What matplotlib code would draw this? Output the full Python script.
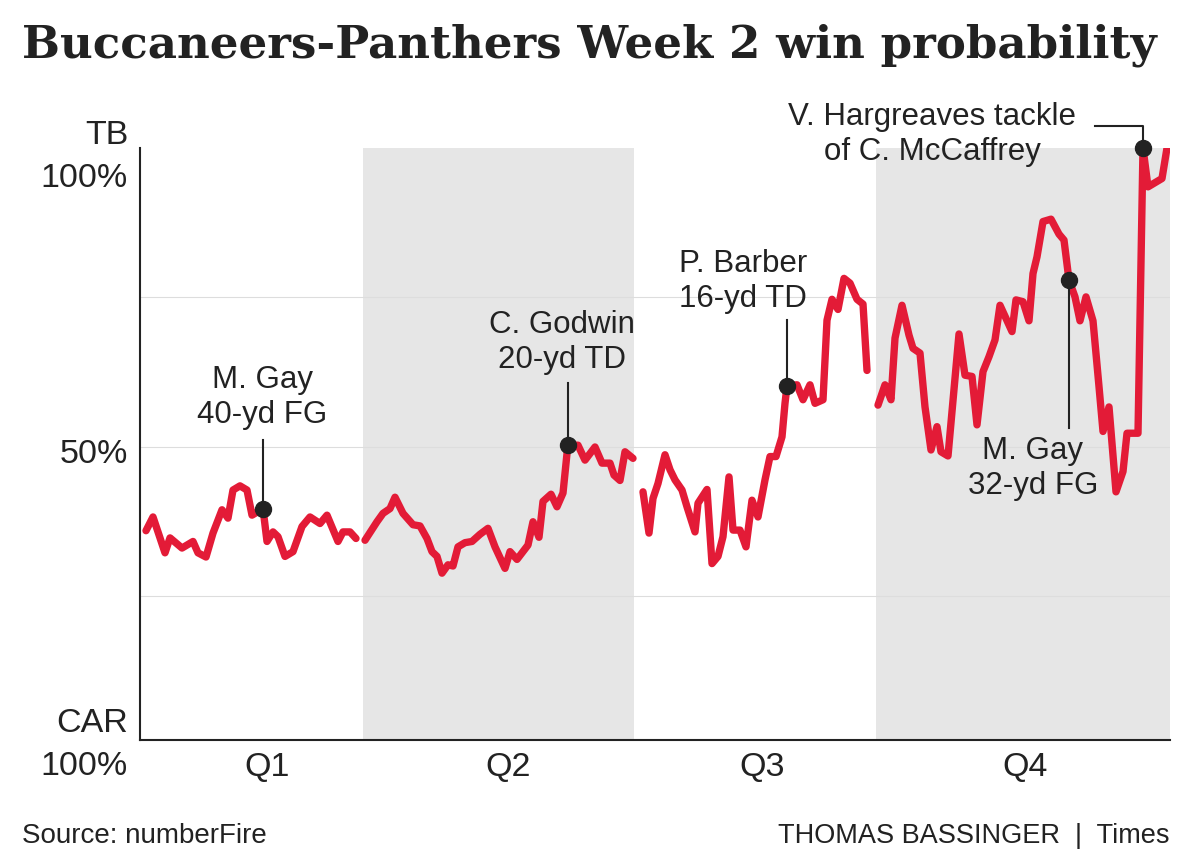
import matplotlib
matplotlib.use("Agg")
import matplotlib.pyplot as plt
from matplotlib import font_manager as fm

# ---------------- data (x = game progress in play units, y = TB win prob %) ----
q1_x = [6, 13, 25, 30, 42, 53, 58, 66, 73, 82, 88, 93, 100, 107, 112, 118, 123, 127, 133, 138,
        145, 153, 162, 170, 180, 187, 198, 203, 210, 216]
q1_y = [36.0, 38.3, 32.3, 34.8, 33.1, 34.2, 32.3, 31.6, 35.6, 39.5, 38.1, 42.8, 43.5, 42.8, 38.6,
        39.2, 39.7, 34.2, 35.8, 35.0, 31.7, 32.5, 36.7, 38.3, 37.2, 38.6, 34.2, 35.8, 35.8, 34.7]

q2_x = [225, 237, 243, 250, 255, 263, 273, 280, 287, 292, 297, 302, 308, 313, 318, 325, 332, 340,
        348, 355, 365, 370, 377, 388, 393, 399, 403, 411, 417, 423, 427, 428, 438, 445, 455, 462,
        470, 474, 480, 485, 493]
q2_y = [34.4, 37.5, 38.9, 39.7, 41.6, 38.9, 37.0, 36.8, 34.7, 32.5, 31.7, 28.9, 30.3, 30.1, 33.3,
        34.0, 34.2, 35.4, 36.4, 33.3, 29.7, 32.5, 31.2, 33.6, 37.5, 34.9, 40.9, 42.1, 40.0, 42.3,
        48.9, 50.3, 50.3, 47.8, 50.0, 47.3, 47.3, 45.3, 44.4, 49.2, 48.1]

q3_x = [503, 509, 513, 518, 525, 530, 535, 542, 547, 555, 558, 567, 572, 578, 583, 589, 593, 600,
        606, 612, 618, 625, 630, 636, 642, 645, 647, 657, 663, 670, 675, 683, 687, 692, 698, 704,
        710, 717, 723, 727]
q3_y = [42.5, 35.6, 41.4, 43.9, 48.7, 46.2, 44.5, 42.8, 40.0, 35.8, 40.6, 42.9, 30.5, 31.7, 35.0,
        45.0, 36.1, 36.1, 33.3, 41.1, 38.3, 44.5, 48.4, 48.4, 51.7, 57.3, 60.2, 60.4, 57.9, 60.4,
        57.3, 57.9, 71.2, 74.7, 73.0, 78.2, 77.4, 74.7, 73.9, 62.8]

q4_x = [738, 745, 751, 755, 762, 769, 773, 780, 785, 791, 797, 801, 808, 819, 825, 832, 837, 843,
        849, 855, 860, 872, 876, 883, 889, 893, 897, 903, 911, 919, 924, 929, 935, 940, 946, 953,
        959, 963, 969, 976, 983, 987, 998, 1003, 1008, 1022, 1027]
q4_y = [57.0, 60.4, 57.9, 68.2, 73.7, 68.7, 66.5, 65.7, 56.7, 49.5, 53.4, 49.2, 48.5, 68.9, 62.0,
        61.8, 53.7, 62.6, 65.1, 67.9, 73.7, 69.3, 74.6, 74.3, 71.1, 79.0, 81.8, 87.7, 88.1, 85.6,
        84.6, 77.9, 75.1, 71.1, 75.1, 71.1, 60.1, 52.6, 56.7, 42.5, 45.9, 52.3, 52.3, 100.0, 93.5,
        94.9, 100.0]

quarter_bounds = [0, 223, 494, 736, 1030]
quarter_labels = ["Q1", "Q2", "Q3", "Q4"]
quarter_label_x = [127, 368, 622, 885]

# key plays: (x, y, label)
key_plays = [
    (123, 39.7, "M. Gay\n40-yd FG"),
    (428, 50.3, "C. Godwin\n20-yd TD"),
    (647, 60.2, "P. Barber\n16-yd TD"),
    (929, 77.9, "M. Gay\n32-yd FG"),
    (1003, 100.0, "V. Hargreaves tackle\nof C. McCaffrey"),
]

title = "Buccaneers-Panthers Week 2 win probability"
source = "Source: numberFire"
credit = "THOMAS BASSINGER  |  Times"

# ---------------- fonts ----------------
names = {f.name for f in fm.fontManager.ttflist}
body = [n for n in ["Liberation Sans", "Arial", "DejaVu Sans"] if n in names]
plt.rcParams["font.family"] = body + ["DejaVu Sans"]

RED = "#e31b37"
DARK = "#222222"

fig = plt.figure(figsize=(11.97, 8.58), dpi=100)
ax = fig.add_axes([140 / 1197, 1 - 740 / 858, 1030 / 1197, (740 - 148) / 858])
ax.set_xlim(quarter_bounds[0], quarter_bounds[-1])
ax.set_ylim(1, 100)

# shaded quarters
for i in (1, 3):
    ax.axvspan(quarter_bounds[i], quarter_bounds[i + 1], color="#e6e6e6", zorder=0, lw=0)
for g in (25, 50, 75):
    ax.axhline(g, color="#dddddd", lw=0.8, zorder=0.5)

for xs, ys in [(q1_x, q1_y), (q2_x, q2_y), (q3_x, q3_y), (q4_x, q4_y)]:
    ax.plot(xs, ys, color=RED, lw=5.3, solid_joinstyle="round", solid_capstyle="round", zorder=3)

for s in ("top", "right"):
    ax.spines[s].set_visible(False)
ax.spines["left"].set_color(DARK)
ax.spines["bottom"].set_color(DARK)
ax.spines["left"].set_linewidth(1.5)
ax.spines["bottom"].set_linewidth(1.5)
ax.set_xticks([])
ax.set_yticks([])

FS = 24.5
# y labels
ax.text(-12, 98.5, "TB\n100%", ha="right", va="center", fontsize=FS, color=DARK, linespacing=1.5)
ax.text(-12, 48.7, "50%", ha="right", va="center", fontsize=FS, color=DARK)
ax.text(-12, 0.2, "CAR\n100%", ha="right", va="center", fontsize=FS, color=DARK, linespacing=1.5,
        clip_on=False)
for qx, ql in zip(quarter_label_x, quarter_labels):
    ax.text(qx, -3.6, ql, ha="center", va="center", fontsize=FS, color=DARK, clip_on=False)

# annotations
AFS = 22.5
LS = 1.22
for (x, y, lab) in key_plays:
    ax.plot([x], [y], "o", color=DARK, ms=11.5, zorder=5, clip_on=False)
(x, y, lab) = key_plays[0]
ax.plot([x, x], [y, 51.2], color=DARK, lw=1.5, zorder=4)
ax.text(122, 58.3, lab, ha="center", va="center", fontsize=AFS, color=DARK, linespacing=LS)
(x, y, lab) = key_plays[1]
ax.plot([x, x], [y, 60.7], color=DARK, lw=1.5, zorder=4)
ax.text(422, 67.5, lab, ha="center", va="center", fontsize=AFS, color=DARK, linespacing=LS)
(x, y, lab) = key_plays[2]
ax.plot([x, x], [y, 71.2], color=DARK, lw=1.5, zorder=4)
ax.text(603, 77.7, lab, ha="center", va="center", fontsize=AFS, color=DARK, linespacing=LS)
(x, y, lab) = key_plays[3]
ax.plot([x, x], [y, 53.2], color=DARK, lw=1.5, zorder=4)
ax.text(893, 46.4, lab, ha="center", va="center", fontsize=AFS, color=DARK, linespacing=LS)
(x, y, lab) = key_plays[4]
ax.plot([955, x, x], [103.7, 103.7, y], color=DARK, lw=1.5, zorder=4, clip_on=False)
ax.text(792, 102.2, lab, ha="center", va="center", fontsize=AFS, color=DARK, linespacing=LS,
        clip_on=False)

# title and footer
fig.text(22 / 1197, 1 - 45 / 858, title, ha="left", va="center", fontsize=32.5,
         fontweight="bold", family="DejaVu Serif", color=DARK)
fig.text(22 / 1197, 1 - 836 / 858, source, ha="left", va="center", fontsize=20, color=DARK)
fig.text(1170 / 1197, 1 - 836 / 858, credit, ha="right", va="center", fontsize=19.5, color=DARK)

fig.savefig("out.png", dpi=100)
